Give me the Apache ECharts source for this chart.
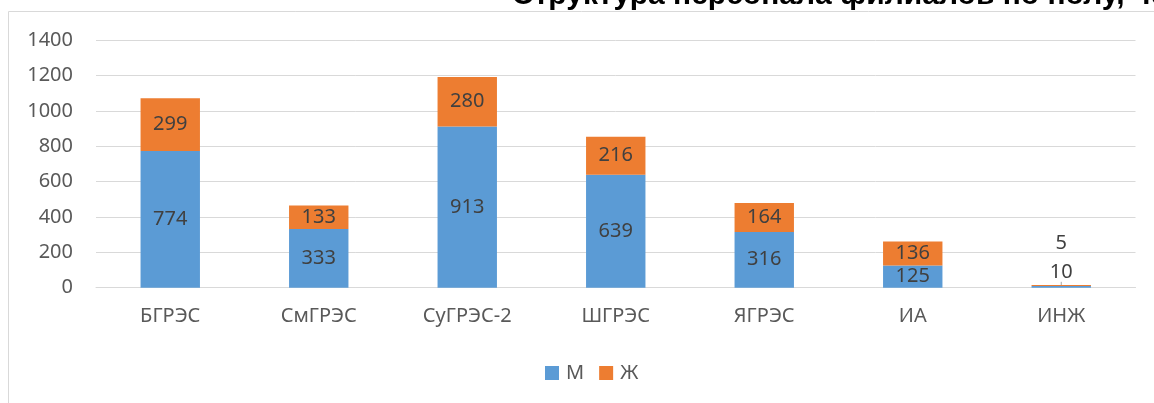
<!DOCTYPE html>
<html>
<head>
<meta charset="utf-8">
<script src="https://cdn.jsdelivr.net/npm/echarts@6/dist/echarts.min.js"></script>
<style>
  html, body { margin: 0; padding: 0; background: #fff; }
  #chart { width: 1154px; height: 403px; }
</style>
</head>
<body>
<div id="chart"></div>
<script>
// данные диаграммы
const categories = ['БГРЭС', 'СмГРЭС', 'СуГРЭС-2', 'ШГРЭС', 'ЯГРЭС', 'ИА', 'ИНЖ'];
const maleValues = [774, 333, 913, 639, 316, 125, 10];
const femaleValues = [299, 133, 280, 216, 164, 136, 5];
const seriesNames = ['М', 'Ж'];
const titleText = 'Структура персонала филиалов по полу, чел.';

const font = 'Noto Sans';
const labelColor = '#404040';
const axisColor = '#595959';
const gridColor = '#d9d9d9';

const chart = echarts.init(document.getElementById('chart'));

function barLabel() {
  return { show: true, position: 'inside', color: labelColor, fontSize: 20, fontFamily: font };
}

const option = {
  animation: false,
  title: {
    text: titleText,
    left: 512,
    top: -19,
    padding: 0,
    textStyle: { fontFamily: 'Liberation Sans', fontSize: 30, fontWeight: 'bold', color: '#000' }
  },
  graphic: [{
    type: 'rect',
    z: -10,
    shape: { x: 8.5, y: 11.5, width: 1300, height: 500 },
    style: { fill: 'none', stroke: gridColor, lineWidth: 1 }
  }],
  legend: {
    data: seriesNames,
    left: 545,
    top: 363,
    padding: 0,
    itemWidth: 14,
    itemHeight: 14,
    itemGap: 15,
    icon: 'rect',
    textStyle: { fontFamily: font, fontSize: 20, color: axisColor, padding: [0, 0, 0, 2] }
  },
  grid: { left: 96, right: 18.5, top: 40.4, bottom: 115.3 },
  xAxis: {
    type: 'category',
    data: categories,
    axisLine: { lineStyle: { color: gridColor } },
    axisTick: { show: false },
    axisLabel: { color: axisColor, fontSize: 20, fontFamily: font, margin: 19 }
  },
  yAxis: {
    type: 'value',
    min: 0,
    max: 1400,
    interval: 200,
    axisLine: { show: false },
    axisTick: { show: false },
    axisLabel: { color: axisColor, fontSize: 20, fontFamily: font, margin: 23, formatter: v => String(v) },
    splitLine: { lineStyle: { color: gridColor, width: 1 } }
  },
  series: [
    {
      name: seriesNames[0],
      type: 'bar',
      stack: 'all',
      data: maleValues,
      barWidth: '40%',
      itemStyle: { color: '#5b9bd5' },
      label: barLabel(),
      labelLayout: function (p) { return p.dataIndex === 6 ? { dy: -15 } : {}; },
      labelLine: { show: true, lineStyle: { color: '#a6a6a6', width: 1 } }
    },
    {
      name: seriesNames[1],
      type: 'bar',
      stack: 'all',
      data: femaleValues,
      barWidth: '40%',
      itemStyle: { color: '#ed7d31' },
      label: barLabel(),
      labelLayout: function (p) { return p.dataIndex === 6 ? { dy: -42 } : {}; }
    }
  ]
};

chart.setOption(option);
</script>
</body>
</html>
